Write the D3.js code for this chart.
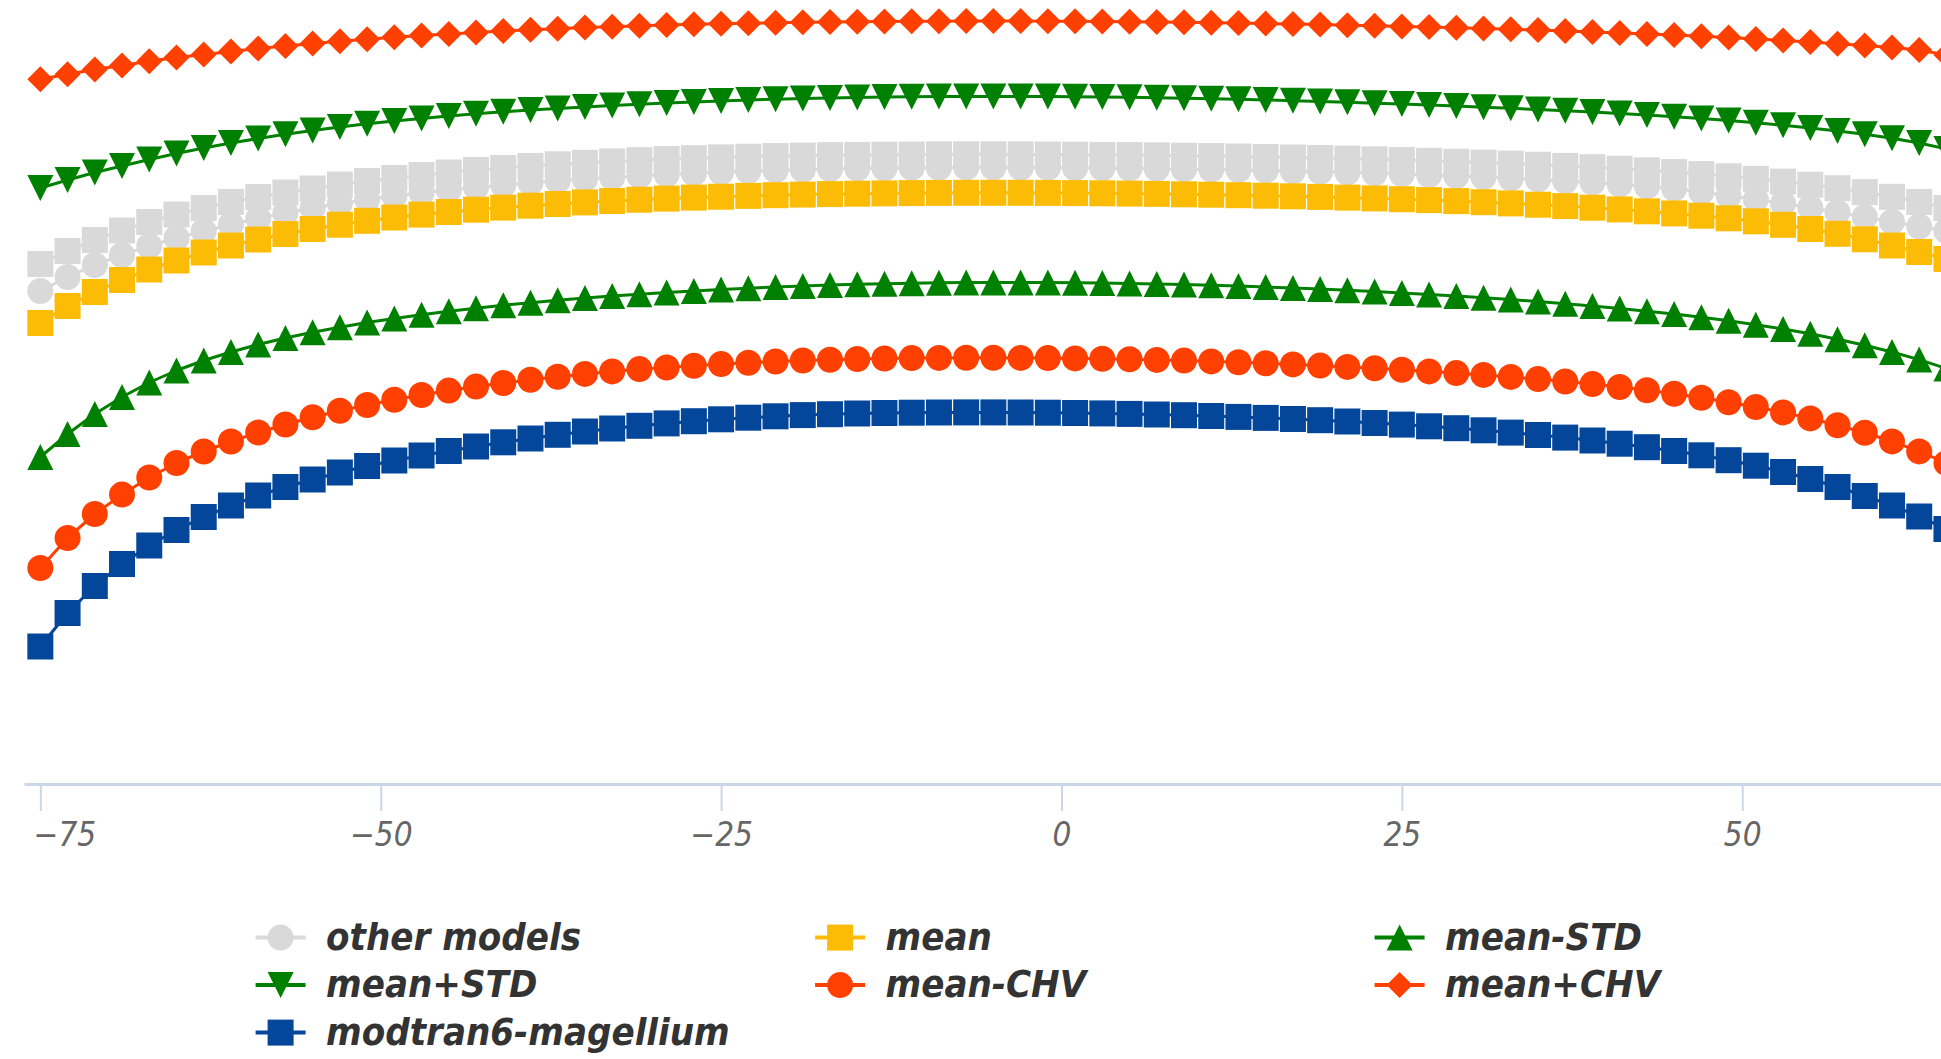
<!DOCTYPE html>
<html>
<head>
<meta charset="utf-8">
<script src="https://cdn.jsdelivr.net/npm/d3@7"></script>
<style>
  html, body { margin: 0; padding: 0; background: #ffffff; overflow: hidden; }
  svg { display: block; }
  .tick-label {
    font-family: "DejaVu Sans Condensed", "DejaVu Sans", sans-serif;
    font-stretch: condensed;
    font-style: italic;
    font-size: 33px;
    fill: #666666;
  }
  .legend-label {
    font-family: "DejaVu Sans Condensed", "DejaVu Sans", sans-serif;
    font-stretch: condensed;
    font-style: italic;
    font-weight: bold;
    font-size: 38px;
    fill: #333333;
  }
</style>
</head>
<body>
<svg id="chart" width="1941" height="1059"></svg>
<script>
// ---------------- data ----------------
const angles = [-75,-73,-71,-69,-67,-65,-63,-61,-59,-57,-55,-53,-51,-49,-47,-45,-43,-41,-39,-37,
  -35,-33,-31,-29,-27,-25,-23,-21,-19,-17,-15,-13,-11,-9,-7,-5,-3,-1,1,3,
  5,7,9,11,13,15,17,19,21,23,25,27,29,31,33,35,37,39,41,43,
  45,47,49,51,53,55,57,59,61,63,65];

const xTicks = [-75, -50, -25, 0, 25, 50];

const otherModelsUpper = [53.6,54.9,56.0,56.95,57.8,58.55,59.2,59.8,60.3,60.75,
  61.15,61.55,61.9,62.2,62.5,62.75,63.0,63.2,63.4,63.57,
  63.72,63.86,63.98,64.09,64.18,64.26,64.33,64.39,64.44,64.48,
  64.51,64.53,64.55,64.56,64.57,64.57,64.56,64.55,64.53,64.51,
  64.49,64.46,64.43,64.39,64.35,64.3,64.25,64.2,64.14,64.07,
  64.0,63.92,63.83,63.74,63.64,63.53,63.41,63.28,63.13,62.97,
  62.79,62.59,62.37,62.12,61.84,61.53,61.18,60.78,60.32,59.8,
  59.2];

const otherModelsLower = [50.9,52.3,53.5,54.5,55.4,56.2,56.9,57.55,58.15,58.7,
  59.2,59.65,60.05,60.4,60.72,61.0,61.26,61.5,61.72,61.92,
  62.1,62.26,62.41,62.54,62.66,62.77,62.87,62.96,63.03,63.09,
  63.14,63.18,63.21,63.23,63.24,63.24,63.23,63.22,63.2,63.18,
  63.15,63.12,63.08,63.04,62.99,62.94,62.88,62.82,62.75,62.67,
  62.59,62.5,62.4,62.29,62.17,62.04,61.9,61.74,61.56,61.36,
  61.14,60.8,60.42,60.05,59.65,59.22,58.77,58.3,57.82,57.35,
  56.9];

const meanValues = [47.7,49.4,50.8,52.0,53.05,53.95,54.75,55.45,56.05,56.6,
  57.1,57.53,57.92,58.25,58.54,58.8,59.03,59.24,59.43,59.6,
  59.76,59.9,60.03,60.14,60.24,60.33,60.41,60.48,60.54,60.59,
  60.63,60.66,60.69,60.71,60.72,60.72,60.72,60.71,60.69,60.67,
  60.64,60.61,60.57,60.53,60.48,60.43,60.37,60.31,60.24,60.16,
  60.08,59.99,59.89,59.78,59.66,59.53,59.39,59.23,59.06,58.87,
  58.66,58.43,58.17,57.87,57.52,57.1,56.62,56.07,55.45,54.8,
  54.1];

const meanMinusStd = [34.3,36.6,38.6,40.3,41.75,42.95,43.95,44.8,45.55,46.2,
  46.77,47.28,47.74,48.15,48.53,48.87,49.18,49.47,49.73,49.97,
  50.19,50.39,50.58,50.75,50.91,51.05,51.18,51.3,51.4,51.49,
  51.57,51.63,51.68,51.72,51.74,51.75,51.75,51.74,51.72,51.69,
  51.65,51.6,51.54,51.47,51.39,51.3,51.2,51.09,50.97,50.84,
  50.7,50.55,50.39,50.22,50.04,49.84,49.63,49.4,49.15,48.88,
  48.59,48.27,47.92,47.53,47.1,46.62,46.08,45.48,44.8,44.04,
  43.15];

const meanPlusStd = [61.2,62.0,62.75,63.4,64.05,64.65,65.2,65.7,66.15,66.57,
  66.95,67.3,67.62,67.9,68.16,68.4,68.62,68.82,69.0,69.16,
  69.31,69.45,69.58,69.7,69.81,69.91,70.0,70.08,70.15,70.21,
  70.26,70.3,70.33,70.35,70.36,70.36,70.36,70.35,70.33,70.3,
  70.27,70.23,70.18,70.13,70.07,70.0,69.93,69.85,69.77,69.68,
  69.59,69.49,69.39,69.28,69.17,69.05,68.92,68.79,68.64,68.49,
  68.32,68.14,67.94,67.72,67.48,67.21,66.91,66.57,66.18,65.7,
  65.1];

const meanMinusChv = [23.2,26.2,28.6,30.54,32.25,33.7,34.85,35.85,36.75,37.55,
  38.27,38.92,39.5,40.02,40.5,40.94,41.34,41.7,42.03,42.33,
  42.61,42.86,43.09,43.25,43.43,43.59,43.73,43.85,43.95,44.03,
  44.1,44.15,44.19,44.21,44.22,44.22,44.21,44.19,44.16,44.12,
  44.07,44.01,43.94,43.86,43.77,43.67,43.56,43.44,43.31,43.17,
  43.02,42.86,42.69,42.51,42.31,42.09,41.85,41.59,41.3,40.98,
  40.62,40.22,39.78,39.3,38.76,38.16,37.48,36.72,35.86,34.86,
  33.7];

const meanPlusChv = [72.07,72.57,73.04,73.46,73.88,74.24,74.55,74.85,75.14,75.40,
  75.64,75.87,76.08,76.27,76.44,76.60,76.75,76.89,77.02,77.13,
  77.24,77.33,77.42,77.50,77.57,77.63,77.68,77.73,77.77,77.80,
  77.83,77.85,77.87,77.88,77.89,77.89,77.89,77.88,77.87,77.85,
  77.83,77.80,77.77,77.73,77.69,77.64,77.59,77.54,77.48,77.42,
  77.36,77.29,77.22,77.15,77.07,76.99,76.90,76.81,76.71,76.61,
  76.50,76.38,76.25,76.11,75.96,75.80,75.63,75.45,75.25,75.00,
  74.50];

const modtranValues = [15.35,18.7,21.4,23.6,25.45,27.0,28.3,29.45,30.45,31.3,
  32.05,32.75,33.4,33.95,34.45,34.9,35.35,35.77,36.15,36.52,
  36.85,37.15,37.42,37.66,37.88,38.07,38.23,38.37,38.49,38.58,
  38.65,38.7,38.73,38.75,38.76,38.76,38.75,38.73,38.7,38.66,
  38.61,38.55,38.48,38.4,38.31,38.21,38.1,37.98,37.85,37.7,
  37.54,37.37,37.18,36.97,36.74,36.5,36.24,35.95,35.63,35.28,
  34.9,34.47,33.98,33.43,32.8,32.1,31.3,30.4,29.45,28.35,
  27.1];

const seriesNames = ["other models", "mean", "mean-STD", "mean+STD", "mean-CHV", "mean+CHV", "modtran6-magellium"];

// ---------------- styles ----------------
const series = [
  { name: seriesNames[0], values: otherModelsUpper, color: "#d9d9d9", symbol: "square", legend: false },
  { name: seriesNames[0], values: otherModelsLower, color: "#d9d9d9", symbol: "circle", legend: true },
  { name: seriesNames[1], values: meanValues,      color: "#fcbc05", symbol: "square", legend: true },
  { name: seriesNames[2], values: meanMinusStd,    color: "#008000", symbol: "triangle", legend: true },
  { name: seriesNames[3], values: meanPlusStd,     color: "#008000", symbol: "triangle-down", legend: true },
  { name: seriesNames[4], values: meanMinusChv,    color: "#ff4000", symbol: "circle", legend: true },
  { name: seriesNames[5], values: meanPlusChv,     color: "#ff4000", symbol: "diamond", legend: true },
  { name: seriesNames[6], values: modtranValues,   color: "#03469a", symbol: "square", legend: true }
];

const W = 1941, H = 1059;
const axisY = 784;
const markerR = 13;

function markerPath(type, r) {
  switch (type) {
    case "square": return `M${-r},${-r}H${r}V${r}H${-r}Z`;
    case "circle": return `M${-r},0A${r},${r} 0 1,0 ${r},0A${r},${r} 0 1,0 ${-r},0Z`;
    case "triangle": return `M0,${-r}L${r},${r}L${-r},${r}Z`;
    case "triangle-down": return `M${-r},${-r}L${r},${-r}L0,${r}Z`;
    case "diamond": return `M0,${-r}L${r},0L0,${r}L${-r},0Z`;
  }
}

const svg = d3.select("#chart");

const x = d3.scaleLinear().domain([-76.2, 64.6]).range([24, W]);
const y = d3.scaleLinear().domain([0, 80]).range([800, 0]);

// ---------------- axis ----------------
const axis = d3.axisBottom(x)
  .tickValues(xTicks)
  .tickSize(27)
  .tickSizeOuter(0)
  .tickPadding(12)
  .tickFormat(d3.format("d"));

const gAxis = svg.append("g").attr("transform", `translate(0,${axisY})`).call(axis);
gAxis.select(".domain").attr("stroke", "#ccd6eb").attr("stroke-width", 3);
gAxis.selectAll(".tick line").attr("stroke", "#ccd6eb").attr("stroke-width", 2);
gAxis.selectAll(".tick text")
  .attr("class", "tick-label")
  .each(function (d, i) {
    if (i === 0) {
      // justify first label inside chart edge
      d3.select(this).attr("text-anchor", "start").attr("x", 33 - x(d));
    }
  });

// ---------------- series ----------------
const line = d3.line()
  .x((d, i) => x(angles[i]))
  .y(d => y(d));

const gSeries = svg.append("g");
series.forEach(s => {
  const g = gSeries.append("g");
  g.append("path")
    .attr("d", line(s.values))
    .attr("fill", "none")
    .attr("stroke", s.color)
    .attr("stroke-width", 3)
    .attr("stroke-linejoin", "round");
  g.selectAll("path.marker")
    .data(s.values)
    .enter().append("path")
    .attr("class", "marker")
    .attr("d", markerPath(s.symbol, markerR))
    .attr("transform", (d, i) => `translate(${x(angles[i])},${y(d)})`)
    .attr("fill", s.color);
});

// ---------------- legend ----------------
const legendItems = series.filter(s => s.legend);
const legendX0 = 280.6, legendColW = 559.5, legendY0 = 937.6, legendRowH = 47.5;
const gLegend = svg.append("g");
legendItems.forEach((s, i) => {
  const col = i % 3, row = Math.floor(i / 3);
  const cx = legendX0 + col * legendColW;
  const cy = legendY0 + row * legendRowH;
  const g = gLegend.append("g").attr("transform", `translate(${cx},${cy})`);
  g.append("line").attr("x1", -25).attr("x2", 25).attr("y1", 0).attr("y2", 0)
    .attr("stroke", s.color).attr("stroke-width", 4);
  g.append("path").attr("d", markerPath(s.symbol, markerR)).attr("fill", s.color);
  g.append("text").attr("class", "legend-label").attr("x", 45.5).attr("y", 12).text(s.name);
});
</script>
</body>
</html>
